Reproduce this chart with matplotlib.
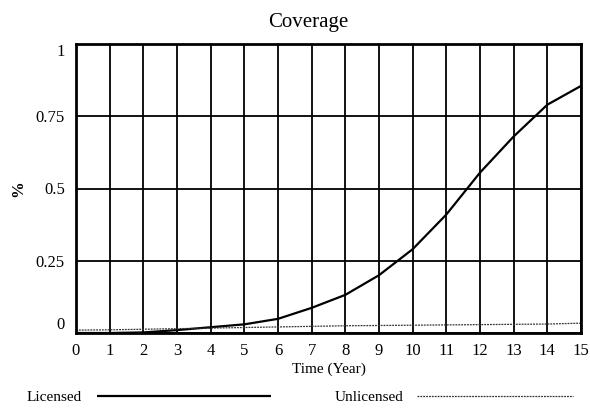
import matplotlib
matplotlib.use("Agg")
import matplotlib.pyplot as plt

years = list(range(0, 16))
licensed = [0.0, 0.0, 0.002, 0.01, 0.02, 0.03, 0.049, 0.087, 0.132, 0.20,
            0.29, 0.41, 0.555, 0.68, 0.79, 0.855]
unlicensed = [0.010, 0.011, 0.013, 0.015, 0.017, 0.019, 0.021, 0.023, 0.025,
              0.026, 0.027, 0.028, 0.029, 0.030, 0.031, 0.034]
x_ticks = list(range(0, 16))
y_ticks = [0, 0.25, 0.5, 0.75, 1]
y_tick_labels = ["0", "0.25", "0.5", "0.75", "1"]

plt.rcParams['font.family'] = ['Liberation Serif', 'DejaVu Serif']

fig = plt.figure(figsize=(5.9, 4.08), dpi=100)
ax = fig.add_axes([76/590, 1-333/408, (581-76)/590, (333-44)/408])

l1, = ax.plot(years, licensed, color='black', lw=1.6, solid_capstyle='butt')
l2, = ax.plot(years, unlicensed, color='#333333', lw=0.9, linestyle=(0, (1.5, 0.8)))

ax.set_xlim(0, 15)
ax.set_ylim(0, 1)
ax.set_xticks(x_ticks)
ax.set_yticks(y_ticks)
ax.set_yticklabels(y_tick_labels)
ax.grid(True, color='black', lw=1.3)
ax.set_axisbelow(True)
for s in ax.spines.values():
    s.set_linewidth(2.0)
ax.tick_params(axis='both', length=0, labelsize=12)
ax.tick_params(axis='y', pad=8)
ax.tick_params(axis='x', pad=7)
ylabs = ax.get_yticklabels()
ylabs[0].set_va('bottom')
ylabs[-1].set_va('top')

ax.set_title("Coverage", fontsize=15, x=(308-76)/505, pad=12)
ax.set_xlabel("Time (Year)", fontsize=11, labelpad=3)
ax.set_ylabel("%", fontsize=12, fontweight='bold', va='center')
ax.yaxis.set_label_coords((18-76)/505, 0.5)

fig.legend([l1], ["Licensed"], markerfirst=False, handlelength=11.4,
           handletextpad=0.95, frameon=False, fontsize=11, borderpad=0,
           borderaxespad=0, loc='center left',
           bbox_to_anchor=(27/590, 1-397/408))
fig.legend([l2], ["Unlicensed"], markerfirst=False, handlelength=10.2,
           handletextpad=0.85, frameon=False, fontsize=11, borderpad=0,
           borderaxespad=0, loc='center left',
           bbox_to_anchor=(335/590, 1-397/408))

fig.savefig("out.png", dpi=100)
